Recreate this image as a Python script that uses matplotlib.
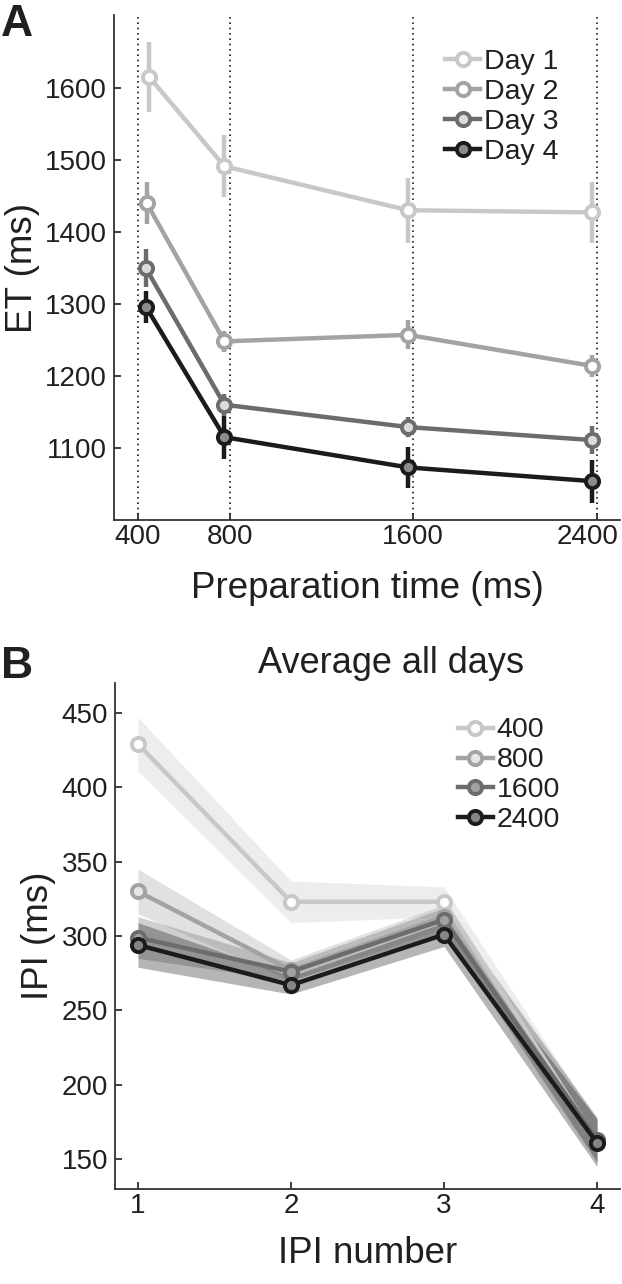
import numpy as np
import matplotlib
matplotlib.use("Agg")
import matplotlib.pyplot as plt
from matplotlib.transforms import ScaledTranslation

plt.rcParams['font.family'] = ['Liberation Sans', 'DejaVu Sans']
plt.rcParams['text.color'] = '#231f20'
plt.rcParams['axes.labelcolor'] = '#231f20'
plt.rcParams['xtick.color'] = '#231f20'
plt.rcParams['ytick.color'] = '#231f20'

# ---- panel A data: execution time per preparation time, per day
prep_ticks = [400, 800, 1600, 2400]
day_labels = ['Day 1', 'Day 2', 'Day 3', 'Day 4']
day1_x = [450, 778, 1578, 2377]
day2_x = [439, 778, 1578, 2377]
day3_x = [435, 778, 1578, 2377]
day4_x = [436, 778, 1578, 2377]
day1_et = [1615, 1491, 1430, 1427]
day2_et = [1440, 1248, 1257, 1214]
day3_et = [1350, 1160, 1129, 1111]
day4_et = [1296, 1115, 1073, 1054]
day1_err = [48, 43, 45, 42]
day2_err = [29, 15, 20, 15]
day3_err = [26, 15, 14, 20]
day4_err = [22, 30, 28, 30]

# ---- panel B data: IPI per preparation time, averaged over days
ipi_num = [1, 2, 3, 4]
prep_labels = ['400', '800', '1600', '2400']
ipi_400 = [429, 323, 323, 162]
ipi_800 = [330, 277, 313, 163]
ipi_1600 = [299, 276, 311, 163]
ipi_2400 = [294, 267, 301, 161]
sem_400 = [18, 14, 10, 14]
sem_800 = [15, 7, 8, 15]
sem_1600 = [14, 6, 8, 15]
sem_2400 = [15, 6, 8, 16]

line_cols = ['#c8c8c8', '#a3a3a3', '#6c6c6c', '#1d1a1b']
face_cols = ['white', 'white', '#dcdcdc', '#8c8c8c']
face_cols_b = ['white', '#e6e6e6', '#a0a0a0', '#858585']

fig = plt.figure(figsize=(6.22, 12.84), dpi=100)
axA = fig.add_axes([0.1833, 0.595, 0.8135, 0.3933])
axB = fig.add_axes([0.1849, 0.074, 0.8119, 0.394])

for ax in (axA, axB):
    for s in ('top', 'right'):
        ax.spines[s].set_visible(False)
    for s in ('left', 'bottom'):
        ax.spines[s].set_color('#333333')
        ax.spines[s].set_linewidth(1.3)
    ax.tick_params(direction='in', length=5, width=1.2, labelsize=20)

# panel A
for xv in prep_ticks:
    axA.axvline(xv, color='#231f20', ls=(0, (1, 2.2)), lw=1.2, zorder=1)

xs = [day1_x, day2_x, day3_x, day4_x]
ets = [day1_et, day2_et, day3_et, day4_et]
errs = [day1_err, day2_err, day3_err, day4_err]
for i in range(4):
    axA.errorbar(xs[i], ets[i], yerr=errs[i], fmt='none', ecolor=line_cols[i],
                 elinewidth=3.2, capsize=0, zorder=2 + i)
    axA.plot(xs[i], ets[i], '-o', color=line_cols[i], lw=3.2, ms=9.5,
             mfc=face_cols[i], mec=line_cols[i], mew=2.8, label=day_labels[i],
             zorder=2 + i)

axA.set_xlim(297, 2500)
axA.set_ylim(1000, 1701)
axA.set_xticks(prep_ticks)
axA.set_yticks([1100, 1200, 1300, 1400, 1500, 1600])
axA.tick_params(axis='x', pad=3)
axA.tick_params(axis='y', pad=5)
# last tick label sits a little left of its tick, as in the original
lab = axA.get_xticklabels()[-1]
lab.set_transform(lab.get_transform() + ScaledTranslation(-0.09, 0, fig.dpi_scale_trans))
axA.set_xlabel('Preparation time (ms)', fontsize=26.5, labelpad=15)
axA.set_ylabel('ET (ms)', fontsize=26.5, labelpad=4)
axA.legend(loc='upper left', bbox_to_anchor=(0.655, 0.932), frameon=False,
           fontsize=20.5, handlelength=1.2, handletextpad=0.15,
           labelspacing=0.14, borderpad=0, borderaxespad=0)

# panel B
ipis = [ipi_400, ipi_800, ipi_1600, ipi_2400]
sems = [sem_400, sem_800, sem_1600, sem_2400]
for i in range(4):
    m = np.array(ipis[i])
    e = np.array(sems[i])
    axB.fill_between(ipi_num, m - e, m + e, color=line_cols[i], alpha=0.32,
                     lw=0, zorder=1)
for i in range(4):
    axB.plot(ipi_num, ipis[i], '-o', color=line_cols[i], lw=3.2, ms=9.5,
             mfc=face_cols_b[i], mec=line_cols[i], mew=2.8,
             label=prep_labels[i], zorder=3 + i)

axB.set_xlim(0.85, 4.15)
axB.set_ylim(130, 470)
axB.set_xticks(ipi_num)
axB.set_yticks([150, 200, 250, 300, 350, 400, 450])
axB.tick_params(axis='x', pad=3)
axB.tick_params(axis='y', pad=5)
axB.set_xlabel('IPI number', fontsize=26.5, labelpad=12)
axB.set_ylabel('IPI (ms)', fontsize=26.5, labelpad=4)
axB.text(0.547, 1.004, 'Average all days', transform=axB.transAxes,
         ha='center', va='bottom', fontsize=26)
axB.legend(loc='upper left', bbox_to_anchor=(0.68, 0.932), frameon=False,
           fontsize=20.5, handlelength=1.2, handletextpad=0.15,
           labelspacing=0.14, borderpad=0, borderaxespad=0)

fig.text(0.002, 0.997, 'A', fontsize=32, fontweight='bold', va='top', ha='left')
fig.text(0.002, 1 - 646 / 1284, 'B', fontsize=32, fontweight='bold', va='top',
         ha='left')

fig.savefig('out.png', dpi=100)
